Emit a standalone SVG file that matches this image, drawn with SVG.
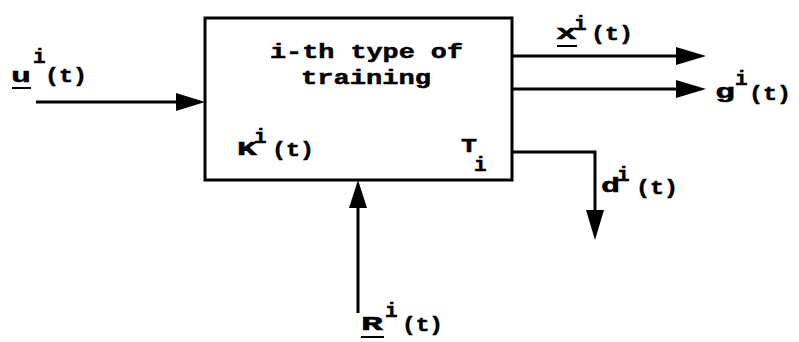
<svg xmlns="http://www.w3.org/2000/svg" width="799" height="342" viewBox="0 0 799 342">
<style>
text{font-family:"Liberation Mono","Courier New",monospace;font-weight:bold;font-size:21px;fill:#000;stroke:#000;stroke-width:0.5}
.sp{font-size:21px}
.ln{stroke:#000;stroke-width:3;fill:none}
.ul{stroke:#000;stroke-width:2}
.ah{fill:#000}
</style>
<rect width="799" height="342" fill="#fff"/>
<g id="block">
<rect x="205" y="18" width="307" height="162" fill="#fff" stroke="#000" stroke-width="3"/>
<text x="270" y="58" textLength="193" lengthAdjust="spacingAndGlyphs">i-th type of</text>
<text x="301" y="84" textLength="130" lengthAdjust="spacingAndGlyphs">training</text>
<text x="237" y="155" textLength="20" lengthAdjust="spacingAndGlyphs">K</text><text class="sp" x="254" y="143">i</text><text x="272" y="156" textLength="42" lengthAdjust="spacingAndGlyphs">(t)</text>
<text x="461" y="152" textLength="16" lengthAdjust="spacingAndGlyphs">T</text><text class="sp" x="474" y="171">i</text>
</g>
<g id="connectors">
<line class="ln" x1="36" y1="102" x2="180" y2="102"/>
<polygon class="ah" points="205,102 176,93 176,111"/>
<line class="ln" x1="512" y1="56" x2="680" y2="56"/>
<polygon class="ah" points="706,56 676,47 676,65"/>
<line class="ln" x1="512" y1="89" x2="680" y2="89"/>
<polygon class="ah" points="706,89 676,80 676,98"/>
<polyline class="ln" points="512,152 595,152 595,212"/>
<polygon class="ah" points="595,240 586,210 604,210"/>
<line class="ln" x1="358" y1="313" x2="358" y2="205"/>
<polygon class="ah" points="358,180 349,208 367,208"/>
</g>
<g id="label-u">
<text x="11" y="82" textLength="20" lengthAdjust="spacingAndGlyphs">u</text><line class="ul" x1="12" y1="88" x2="31" y2="88"/>
<text class="sp" x="33" y="63">i</text><text x="45" y="82" textLength="42" lengthAdjust="spacingAndGlyphs">(t)</text>
</g>
<g id="label-x">
<text x="556" y="39" textLength="21" lengthAdjust="spacingAndGlyphs">x</text><line class="ul" x1="557" y1="46" x2="577" y2="46"/>
<text class="sp" x="574" y="30">i</text><text x="591" y="40" textLength="42" lengthAdjust="spacingAndGlyphs">(t)</text>
</g>
<g id="label-g">
<text x="715" y="98" textLength="20" lengthAdjust="spacingAndGlyphs">g</text><text class="sp" x="735" y="85">i</text><text x="749" y="100" textLength="42" lengthAdjust="spacingAndGlyphs">(t)</text>
</g>
<g id="label-d">
<text x="601" y="192" textLength="19" lengthAdjust="spacingAndGlyphs">d</text><text class="sp" x="617" y="181">i</text><text x="636" y="194" textLength="42" lengthAdjust="spacingAndGlyphs">(t)</text>
</g>
<g id="label-R">
<text x="361" y="330" textLength="22" lengthAdjust="spacingAndGlyphs">R</text><line class="ul" x1="361" y1="337" x2="384" y2="337"/>
<text class="sp" x="385" y="317">i</text><text x="402" y="331" textLength="41" lengthAdjust="spacingAndGlyphs">(t)</text>
</g>
</svg>
